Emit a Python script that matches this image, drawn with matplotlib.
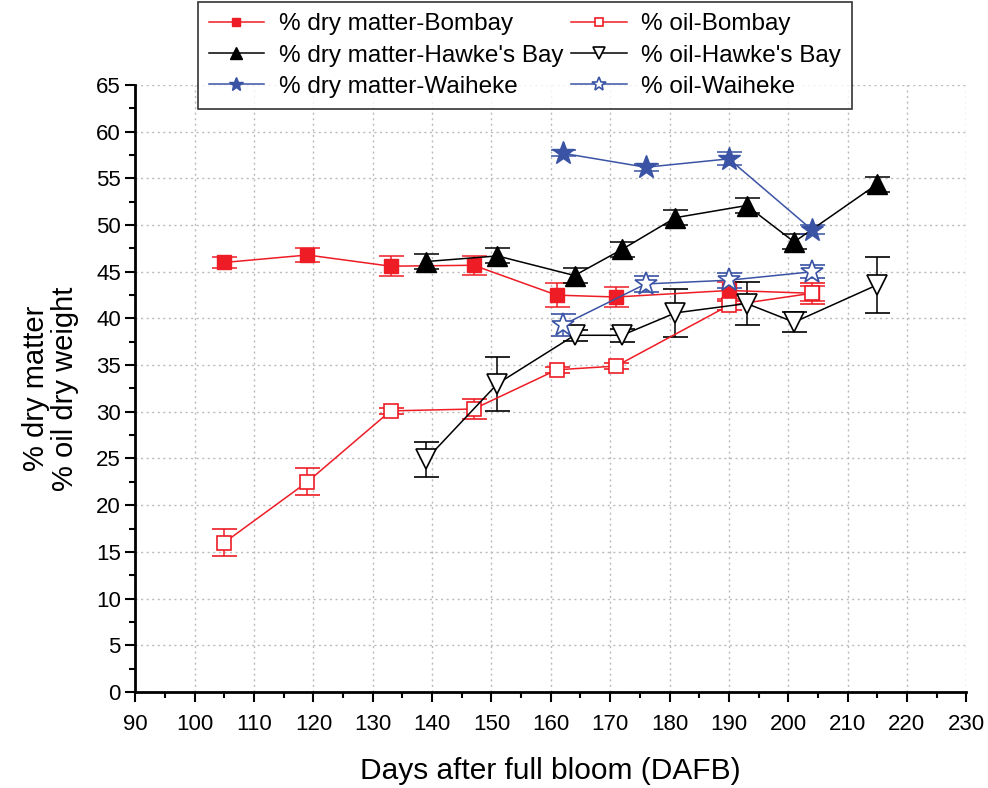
import matplotlib.pyplot as plt
import numpy as np
from matplotlib.ticker import MultipleLocator

plt.rcParams['font.family'] = ['Liberation Sans', 'DejaVu Sans']

red = "#ee1c25"
blue = "#3a53a4"

# Bombay
bom_x = [105, 119, 133, 147, 161, 171, 190, 204]
bom_dm = [46.0, 46.8, 45.6, 45.7, 42.5, 42.3, 43.0, 42.7]
bom_dm_err = [0.6, 0.7, 1.1, 1.0, 1.3, 1.1, 0.9, 0.8]
bom_oil = [16.0, 22.5, 30.1, 30.3, 34.5, 34.9, 41.4, 42.7]
bom_oil_err = [1.4, 1.45, 0.3, 1.1, 0.3, 0.3, 0.5, 1.1]

# Hawke's Bay
hb_x = [139, 151, 164, 172, 181, 193, 201, 215]
hb_dm = [46.1, 46.7, 44.6, 47.4, 50.8, 52.1, 48.2, 54.4]
hb_dm_err = [0.8, 0.8, 0.8, 0.8, 0.8, 0.8, 0.8, 0.8]
hb_oil = [24.9, 33.0, 38.2, 38.2, 40.6, 41.6, 39.6, 43.6]
hb_oil_err = [1.9, 2.9, 0.6, 0.7, 2.6, 2.3, 1.1, 3.0]

# Waiheke
wai_x = [162, 176, 190, 204]
wai_dm = [57.7, 56.2, 57.1, 49.5]
wai_dm_err = [0.3, 0.4, 0.7, 0.5]
wai_oil = [39.3, 43.7, 44.1, 45.0]
wai_oil_err = [1.2, 0.9, 0.8, 0.7]

fig = plt.figure(figsize=(9.88, 7.88), dpi=100)
ax = fig.add_axes([0.137, 0.122, 0.841, 0.770])

eb = dict(capsize=9, elinewidth=1.1, capthick=1.1, lw=1.1)
ax.errorbar(bom_x, bom_dm, yerr=bom_dm_err, color=red, marker="s", ms=10,
            mfc=red, mec=red, label="% dry matter-Bombay", **eb)
ax.errorbar(bom_x, bom_oil, yerr=bom_oil_err, color=red, marker="s", ms=10,
            mfc="white", mec=red, mew=1.2, label="% oil-Bombay", **eb)
ax.errorbar(hb_x, hb_dm, yerr=hb_dm_err, color="black", marker="^", ms=14,
            mfc="black", mec="black", label="% dry matter-Hawke's Bay", **eb)
ax.errorbar(hb_x, hb_oil, yerr=hb_oil_err, color="black", marker="v", ms=14,
            mfc="white", mec="black", mew=1.2, label="% oil-Hawke's Bay", **eb)
ax.errorbar(wai_x, wai_dm, yerr=wai_dm_err, color=blue, marker="*", ms=17,
            mfc=blue, mec=blue, label="% dry matter-Waiheke", **eb)
ax.errorbar(wai_x, wai_oil, yerr=wai_oil_err, color=blue, marker="*", ms=17,
            mfc="white", mec=blue, mew=1.2, label="% oil-Waiheke", **eb)

ax.set_xlim(90, 230)
ax.set_ylim(0, 65)
ax.xaxis.set_major_locator(MultipleLocator(10))
ax.xaxis.set_minor_locator(MultipleLocator(5))
ax.yaxis.set_major_locator(MultipleLocator(5))
ax.yaxis.set_minor_locator(MultipleLocator(2.5))
ax.tick_params(which="major", direction="out", length=7, width=1.5, labelsize=16)
ax.tick_params(axis="x", which="major", pad=9)
ax.tick_params(which="minor", direction="out", length=4, width=1.5)
ax.spines["top"].set_visible(False)
ax.spines["right"].set_visible(False)
ax.spines["left"].set_linewidth(2)
ax.spines["bottom"].set_linewidth(2)
ax.grid(True, which="major", color="#bbbbbb", linestyle=(0, (1.5, 2.5)), lw=1)

ax.set_xlabel("Days after full bloom (DAFB)", fontsize=21.5, labelpad=16)
ax.set_ylabel("% dry matter\n% oil dry weight", fontsize=21, labelpad=12,
              linespacing=1.05)

handles, labels = ax.get_legend_handles_labels()
handles = [h[0] for h in handles]
# row-wise order: dry matter in left column, oil in right column
order = [0, 2, 4, 1, 3, 5]
leg = fig.legend([handles[i] for i in order], [labels[i] for i in order],
                 loc="upper left", bbox_to_anchor=(0.2, 0.997),
                 borderaxespad=0.0,
                 ncol=2, fontsize=17.5, frameon=True, fancybox=False,
                 edgecolor="black", handlelength=2.3, handletextpad=0.6,
                 columnspacing=0.3, labelspacing=0.38, borderpad=0.45,
                 markerscale=0.6)
leg.get_frame().set_linewidth(1.2)

fig.savefig("out.png", dpi=100)
